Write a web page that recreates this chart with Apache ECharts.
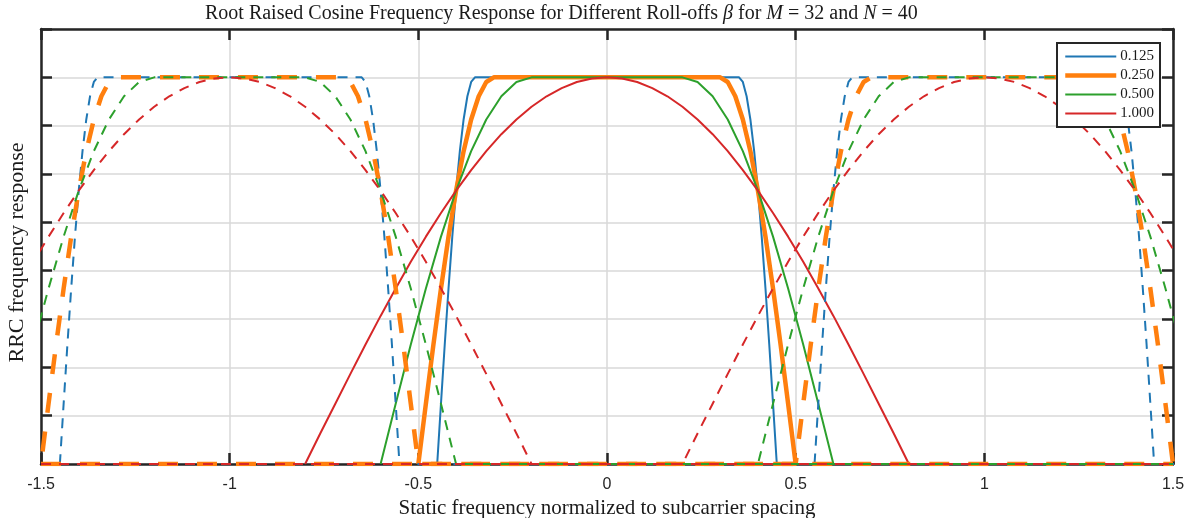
<!DOCTYPE html>
<html>
<head>
<meta charset="utf-8">
<script src="https://cdn.jsdelivr.net/npm/echarts@6/dist/echarts.min.js"></script>
<style>
  html, body { margin: 0; padding: 0; background: #fff; }
  #chart { width: 1195px; height: 518px; }
</style>
</head>
<body>
<div id="chart"></div>
<script>
// ---- data ----
const rollOffLabels = ['0.125', '0.250', '0.500', '1.000'];
const xTicks = [-1.5, -1, -0.5, 0, 0.5, 1, 1.5];
const neighbourShifts = [-1, 1];

// first and last points are the zero padding out to the axis edges
const freq0125 = [-1.5, -0.45, -0.44, -0.43, -0.42, -0.41, -0.40, -0.39, -0.38, -0.37, -0.36, -0.35,
                  0.35, 0.36, 0.37, 0.38, 0.39, 0.40, 0.41, 0.42, 0.43, 0.44, 0.45, 1.5];
const resp0125 = [0, 0, 0.156, 0.309, 0.454, 0.588, 0.707, 0.809, 0.891, 0.951, 0.988, 1,
                  1, 0.988, 0.951, 0.891, 0.809, 0.707, 0.588, 0.454, 0.309, 0.156, 0, 0];

const freq0250 = [-1.5, -0.50, -0.48, -0.46, -0.44, -0.42, -0.40, -0.38, -0.36, -0.34, -0.32, -0.30,
                  0.30, 0.32, 0.34, 0.36, 0.38, 0.40, 0.42, 0.44, 0.46, 0.48, 0.50, 1.5];
const resp0250 = [0, 0, 0.156, 0.309, 0.454, 0.588, 0.707, 0.809, 0.891, 0.951, 0.988, 1,
                  1, 0.988, 0.951, 0.891, 0.809, 0.707, 0.588, 0.454, 0.309, 0.156, 0, 0];

const freq0500 = [-1.5, -0.60, -0.56, -0.52, -0.48, -0.44, -0.40, -0.36, -0.32, -0.28, -0.24, -0.20,
                  0.20, 0.24, 0.28, 0.32, 0.36, 0.40, 0.44, 0.48, 0.52, 0.56, 0.60, 1.5];
const resp0500 = [0, 0, 0.156, 0.309, 0.454, 0.588, 0.707, 0.809, 0.891, 0.951, 0.988, 1,
                  1, 0.988, 0.951, 0.891, 0.809, 0.707, 0.588, 0.454, 0.309, 0.156, 0, 0];

const freq1000 = [-1.5, -0.80, -0.76, -0.72, -0.68, -0.64, -0.60, -0.56, -0.52, -0.48, -0.44, -0.40,
                  -0.36, -0.32, -0.28, -0.24, -0.20, -0.16, -0.12, -0.08, -0.04, 0,
                  0.04, 0.08, 0.12, 0.16, 0.20, 0.24, 0.28, 0.32, 0.36, 0.40, 0.44, 0.48, 0.52,
                  0.56, 0.60, 0.64, 0.68, 0.72, 0.76, 0.80, 1.5];
const resp1000 = [0, 0, 0.079, 0.156, 0.233, 0.309, 0.383, 0.454, 0.523, 0.588, 0.649, 0.707,
                  0.760, 0.809, 0.853, 0.891, 0.924, 0.951, 0.972, 0.988, 0.997, 1,
                  0.997, 0.988, 0.972, 0.951, 0.924, 0.891, 0.853, 0.809, 0.760, 0.707, 0.649, 0.588, 0.523,
                  0.454, 0.383, 0.309, 0.233, 0.156, 0.079, 0, 0];

const curves = [
  { freq: freq0125, resp: resp0125 },
  { freq: freq0250, resp: resp0250 },
  { freq: freq0500, resp: resp0500 },
  { freq: freq1000, resp: resp1000 }
];

// ---- styles ----
const colors = ['#1f77b4', '#ff7f0e', '#2ca02c', '#d62728'];
const widths = [2, 4.5, 2, 2];
const dashes = [[10, 8], [20, 19], [10, 8], [10, 8]];
const frameColor = '#262626';
const serif = '"Liberation Serif", "Times New Roman", serif';

const xMin = xTicks[0];
const xMax = xTicks[xTicks.length - 1];

const series = [];
// centre subcarrier: solid, drawn over its support only
curves.forEach((c, i) => {
  const pts = c.freq.map((f, k) => [f, c.resp[k]]).slice(1, -1);
  series.push({
    name: rollOffLabels[i],
    type: 'line',
    data: pts,
    symbol: 'none',
    lineStyle: { color: colors[i], width: widths[i], cap: 'butt' },
    itemStyle: { color: colors[i] },
    z: 12 + i
  });
});
// neighbouring subcarriers (shifted by one subcarrier): dashed, spanning the whole axis
curves.forEach((c, i) => {
  neighbourShifts.forEach((s) => {
    let pts = c.freq.map((f, k) => [f + s, c.resp[k]]);
    if (s < 0) pts = pts.concat([[xMax, 0]]);
    else pts = [[xMin, 0]].concat(pts);
    series.push({
      name: rollOffLabels[i] + ' shifted ' + s,
      type: 'line',
      data: pts,
      symbol: 'none',
      lineStyle: { color: colors[i], width: widths[i], type: dashes[i], cap: 'butt' },
      itemStyle: { color: colors[i] },
      z: 16 + i
    });
  });
});

const chart = echarts.init(document.getElementById('chart'), null, { renderer: 'canvas' });
const axisLine = { show: true, onZero: false, lineStyle: { color: frameColor, width: 2.5 } };
const axisTick = { show: true, inside: true, length: 11, lineStyle: { color: frameColor, width: 2.5 } };

chart.setOption({
  animation: false,
  backgroundColor: '#ffffff',
  title: {
    text: '{r|Root Raised Cosine Frequency Response for Different Roll-offs }{i|β}{r| for }{i|M}{r| = 32 and }{i|N}{r| = 40}',
    left: 205,
    top: 4,
    padding: 0,
    textStyle: {
      fontWeight: 'normal',
      rich: {
        r: { fontFamily: serif, fontSize: 20, fontWeight: 'normal', color: '#1a1a1a' },
        i: { fontFamily: serif, fontSize: 20, fontWeight: 'normal', fontStyle: 'italic', color: '#1a1a1a' }
      }
    }
  },
  legend: {
    data: rollOffLabels,
    orient: 'vertical',
    left: 1057,
    top: 43,
    padding: [6, 6, 6, 6],
    itemWidth: 51,
    itemHeight: 14,
    itemGap: 4,
    backgroundColor: '#ffffff',
    borderColor: frameColor,
    borderWidth: 2,
    borderRadius: 0,
    itemStyle: { opacity: 0, borderWidth: 0 },
    lineStyle: { width: 'inherit' },
    textStyle: { fontFamily: serif, fontSize: 15, lineHeight: 15, color: '#1a1a1a', padding: [0, 0, 0, -1] },
    z: 30
  },
  grid: { left: 41, right: 22, top: 29, bottom: 54, containLabel: false, outerBoundsMode: 'none' },
  xAxis: [
    {
      type: 'value',
      min: xMin,
      max: xMax,
      interval: 0.5,
      position: 'bottom',
      name: 'Static frequency normalized to subcarrier spacing',
      nameLocation: 'middle',
      nameGap: 21,
      nameTextStyle: { fontFamily: serif, fontSize: 21, color: '#1a1a1a' },
      axisLine, axisTick,
      axisLabel: { fontFamily: '"Liberation Sans", Arial, sans-serif', fontSize: 16, color: '#262626', margin: 13 },
      splitLine: { show: true, lineStyle: { color: '#d9d9d9', width: 1.5 } },
      z: 1
    },
    {
      type: 'value',
      min: xMin,
      max: xMax,
      interval: 0.5,
      position: 'top',
      axisLine, axisTick,
      axisLabel: { show: false },
      splitLine: { show: false },
      z: 1
    }
  ],
  yAxis: [
    {
      type: 'value',
      min: 0,
      max: 1.125,
      interval: 0.125,
      position: 'left',
      name: 'RRC frequency response',
      nameLocation: 'middle',
      nameGap: 13,
      nameTextStyle: { fontFamily: serif, fontSize: 22, color: '#1a1a1a', padding: [0, 12, 0, 0] },
      axisLine, axisTick,
      axisLabel: { show: false },
      splitLine: { show: true, lineStyle: { color: '#d9d9d9', width: 1.5 } },
      z: 1
    },
    {
      type: 'value',
      min: 0,
      max: 1.125,
      interval: 0.125,
      position: 'right',
      axisLine, axisTick,
      axisLabel: { show: false },
      splitLine: { show: false },
      z: 1
    }
  ],
  series
});
</script>
</body>
</html>
